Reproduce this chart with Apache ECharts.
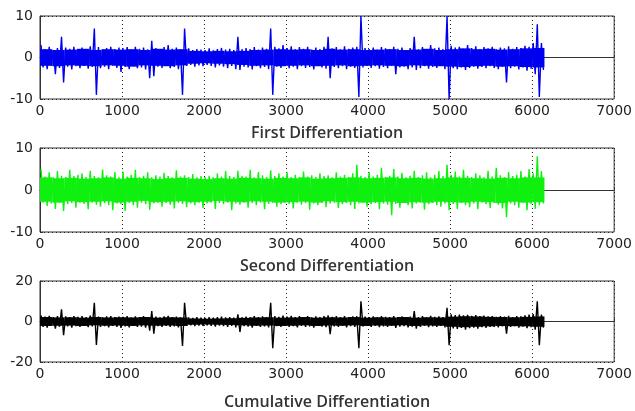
<!DOCTYPE html>
<html>
<head>
<meta charset="utf-8">
<script src="https://cdn.jsdelivr.net/npm/echarts@6/dist/echarts.min.js"></script>
<style>html,body{margin:0;padding:0;background:#fff}#c{width:635px;height:411px}</style>
</head>
<body>
<div id="c"></div>
<script>
// x tick labels and y tick labels
var xTicks = [0, 1000, 2000, 3000, 4000, 5000, 6000, 7000];
var yTicksA = [-10, 0, 10];
var yTicksC = [-20, 0, 20];
var titles = ['First Differentiation', 'Second Differentiation', 'Cumulative Differentiation'];

// extremes: each bin covers 50 samples; upper and lower extremes
var binSize = 50;
// dense core of the signal: each core bin covers 150 samples
var coreSize = 150;

var firstHigh = [
 3.0, 2.0, 2.6, 1.8, 2.3, 5.0, 2.4, 2.1, 2.6, 1.9,
 2.4, 2.0, 2.7, 7.0, 2.5, 1.9, 2.3, 2.6, 2.0, 2.4,
 2.2, 2.5, 1.9, 2.6, 2.1, 2.4, 2.0, 4.0, 2.3, 1.8,
 2.5, 3.0, 2.1, 2.4, 2.0, 7.0, 2.2, 1.8, 2.0, 1.9,
 1.8, 2.2, 1.7, 2.0, 2.3, 1.9, 2.1, 1.8, 5.0, 2.0,
 2.3, 2.0, 2.5, 1.9, 2.4, 2.1, 7.0, 2.6, 2.2, 3.0,
 2.3, 2.7, 2.0, 2.5, 2.1, 2.6, 1.9, 2.4, 2.0, 2.6,
 5.0, 2.2, 2.5, 2.0, 2.7, 2.1, 2.4, 2.6, 10.0, 2.3,
 2.0, 2.4, 1.9, 2.5, 2.2, 2.0, 2.6, 2.1, 2.4, 1.8,
 2.3, 5.0, 2.0, 2.5, 1.9, 3.0, 2.2, 2.4, 2.0, 10.0,
 2.8, 2.4, 2.6, 2.1, 3.0, 2.3, 2.7, 2.0, 2.5, 2.2,
 2.6, 2.0, 2.4, 2.2, 2.7, 2.1, 2.5, 2.3, 2.8, 2.6,
 3.5, 8.0, 3.5
];
var firstLow = [
 -2.4, -2.8, -2.0, -4.0, -2.5, -6.0, -2.2, -2.9, -2.1, -2.6,
 -2.0, -2.7, -2.3, -9.0, -2.6, -2.2, -2.8, -2.0, -2.5, -3.5,
 -2.3, -2.8, -2.1, -2.6, -2.4, -2.9, -5.0, -4.5, -2.2, -2.5,
 -2.0, -2.6, -2.3, -2.8, -9.0, -2.0, -1.8, -2.2, -1.9, -2.1,
 -1.8, -2.0, -2.4, -1.9, -2.2, -2.6, -2.0, -2.8, -3.0, -2.2,
 -2.4, -2.9, -2.1, -2.6, -2.3, -2.8, -9.0, -2.2, -2.5, -2.0,
 -2.6, -2.2, -2.8, -2.1, -2.5, -2.3, -2.9, -2.0, -2.4, -2.7,
 -5.0, -2.3, -2.6, -2.1, -2.8, -2.2, -2.5, -9.5, -2.4, -2.0,
 -2.5, -2.1, -2.7, -2.3, -2.6, -2.0, -4.0, -2.4, -2.2, -2.8,
 -2.4, -3.0, -2.6, -2.1, -2.7, -2.3, -2.5, -2.0, -2.8, -10.0,
 -2.6, -2.8, -2.4, -3.0, -2.5, -2.2, -2.7, -2.3, -2.6, -2.1,
 -2.5, -2.8, -2.3, -6.0, -2.6, -2.2, -2.9, -2.4, -3.2, -2.7,
 -4.0, -9.5, -3.0
];
var firstCoreHigh = [
 2.0, 1.8, 1.9, 2.1, 1.8, 2.0, 1.9, 2.0, 1.8, 2.1,
 1.9, 2.0, 1.6, 1.5, 1.6, 1.5, 1.6, 1.8, 1.9, 2.0,
 1.9, 2.0, 1.8, 2.1, 1.9, 2.0, 1.8, 1.9, 2.0, 1.8,
 1.9, 2.1, 1.8, 2.0, 2.2, 2.0, 2.1, 1.9, 2.0, 2.2,
 2.3
];
var firstCoreLow = [
 -2.0, -2.1, -1.9, -2.0, -2.1, -1.9, -2.0, -2.2, -1.9, -2.0,
 -2.1, -1.9, -1.5, -1.4, -1.5, -1.6, -1.8, -2.0, -1.9, -2.1,
 -2.0, -1.9, -2.1, -2.0, -1.9, -2.1, -2.0, -1.9, -2.0, -2.1,
 -1.9, -2.0, -2.1, -2.2, -2.3, -2.1, -2.0, -2.2, -2.1, -2.3,
 -2.4
];
var secondHigh = [
 5.0, 3.2, 4.2, 3.0, 4.5, 3.4, 3.1, 4.8, 3.3, 3.6,
 4.0, 3.1, 4.6, 3.3, 3.0, 4.9, 3.5, 3.2, 4.3, 3.0,
 4.4, 3.2, 3.6, 4.8, 3.1, 3.4, 4.2, 3.0, 3.5, 3.2,
 4.1, 3.3, 3.0, 4.7, 3.2, 3.5, 3.1, 3.8, 3.0, 3.3,
 3.1, 3.4, 3.0, 4.0, 3.2, 4.5, 3.3, 3.1, 4.6, 3.4,
 3.2, 4.8, 3.0, 4.3, 3.5, 3.1, 4.7, 3.3, 4.0, 3.2,
 4.2, 3.1, 3.6, 3.0, 4.4, 3.2, 3.5, 3.1, 4.0, 3.3,
 3.5, 3.0, 4.2, 3.2, 3.6, 3.1, 4.0, 6.0, 3.4, 3.1,
 4.3, 3.2, 3.6, 5.3, 3.1, 3.4, 5.0, 3.2, 4.1, 3.0,
 3.4, 4.6, 3.1, 3.5, 4.2, 3.0, 3.6, 4.5, 3.3, 6.0,
 3.6, 4.4, 3.2, 4.8, 3.4, 3.1, 4.0, 3.5, 3.0, 4.6,
 3.2, 5.2, 3.5, 3.1, 4.3, 3.3, 3.6, 4.5, 3.2, 5.0,
 4.0, 8.0, 4.5
];
var secondLow = [
 -3.0, -3.8, -3.2, -4.5, -3.0, -5.0, -3.4, -3.1, -4.2, -3.0,
 -3.3, -4.6, -3.0, -3.5, -4.0, -3.1, -3.6, -4.8, -3.2, -3.4,
 -5.0, -3.1, -3.6, -4.2, -3.0, -3.4, -4.7, -3.2, -3.0, -4.0,
 -3.1, -3.5, -4.4, -3.0, -3.3, -4.1, -3.2, -3.6, -3.0, -4.3,
 -3.2, -3.0, -4.5, -3.1, -3.4, -3.0, -4.8, -3.2, -3.5, -3.0,
 -4.2, -3.1, -3.6, -3.0, -4.6, -3.3, -3.1, -4.0, -3.4, -3.0,
 -3.3, -4.4, -3.0, -3.5, -3.1, -4.7, -3.2, -3.6, -3.0, -4.1,
 -3.2, -3.0, -4.3, -3.4, -3.1, -3.6, -4.5, -3.2, -3.0, -4.0,
 -3.4, -3.1, -4.6, -3.2, -3.5, -6.0, -3.3, -4.2, -3.0, -3.6,
 -4.4, -3.2, -3.0, -4.7, -3.4, -3.1, -3.6, -4.0, -3.2, -4.8,
 -3.3, -4.5, -3.1, -3.6, -4.1, -3.2, -4.6, -3.0, -3.4, -4.3,
 -3.1, -3.5, -4.4, -6.5, -3.2, -3.6, -4.2, -3.0, -4.8, -3.3,
 -4.5, -3.6, -3.2
];
var secondCoreHigh = [
 3.0, 2.8, 2.9, 2.7, 2.8, 3.0, 2.7, 2.9, 2.8, 2.6,
 2.8, 2.9, 2.7, 2.6, 2.8, 2.7, 2.9, 2.8, 2.7, 2.9,
 2.8, 3.0, 2.7, 2.8, 2.9, 3.0, 2.8, 2.9, 3.0, 2.8,
 2.9, 2.7, 2.8, 3.0, 2.9, 2.8, 2.7, 2.9, 2.8, 3.0,
 3.0
];
var secondCoreLow = [
 -2.8, -3.0, -2.7, -2.9, -2.8, -2.7, -3.0, -2.8, -2.6, -2.9,
 -2.8, -2.7, -2.9, -2.8, -2.6, -2.8, -2.9, -2.7, -2.8, -3.0,
 -2.9, -2.8, -3.0, -2.7, -2.9, -2.8, -3.0, -2.9, -2.8, -3.1,
 -2.9, -3.0, -2.8, -2.9, -3.0, -2.8, -2.9, -3.1, -2.8, -3.0,
 -2.9
];
var thirdHigh = [
 3.0, 2.4, 2.8, 2.2, 2.6, 6.0, 2.5, 2.2, 2.7, 2.3,
 2.6, 2.2, 2.9, 9.2, 2.4, 2.0, 2.5, 2.7, 2.1, 2.4,
 2.3, 2.6, 2.0, 2.5, 2.2, 2.7, 2.1, 5.2, 2.4, 2.0,
 2.5, 2.8, 2.2, 2.4, 2.1, 9.2, 2.0, 1.8, 2.1, 1.9,
 1.8, 2.2, 1.9, 2.1, 2.4, 2.0, 2.2, 1.9, 3.5, 2.1,
 2.4, 2.0, 2.6, 2.1, 2.5, 2.2, 9.2, 2.7, 2.3, 2.9,
 2.4, 2.8, 2.1, 2.6, 2.2, 2.7, 2.0, 2.5, 2.1, 2.6,
 3.0, 2.3, 2.6, 2.1, 2.7, 2.2, 2.5, 2.6, 10.0, 2.4,
 2.1, 2.5, 2.0, 2.6, 2.3, 2.1, 2.7, 2.2, 2.5, 2.0,
 2.4, 5.2, 2.1, 2.6, 2.0, 2.8, 2.3, 2.5, 2.1, 6.8,
 3.5, 3.2, 3.4, 3.0, 3.3, 2.8, 3.1, 2.6, 2.9, 2.5,
 2.7, 2.3, 2.6, 2.4, 2.8, 2.2, 2.6, 2.5, 3.0, 3.4,
 3.6, 10.0, 3.4
];
var thirdLow = [
 -2.6, -3.0, -2.2, -3.5, -2.6, -6.8, -2.4, -3.0, -2.3, -2.7,
 -2.2, -2.8, -2.4, -11.6, -2.7, -2.3, -2.9, -2.1, -2.6, -3.2,
 -2.4, -2.9, -2.2, -2.7, -2.5, -3.0, -4.5, -6.0, -2.3, -2.6,
 -2.1, -2.7, -2.4, -2.9, -12.1, -2.1, -1.9, -2.3, -2.0, -2.2,
 -1.9, -2.1, -2.5, -2.0, -2.3, -2.7, -2.1, -2.9, -5.2, -2.3,
 -2.5, -3.0, -2.2, -2.7, -2.4, -2.9, -13.2, -2.3, -2.6, -2.1,
 -2.7, -2.3, -2.9, -2.2, -2.6, -2.4, -3.0, -2.1, -2.5, -2.8,
 -6.3, -2.4, -2.7, -2.2, -2.9, -2.3, -2.6, -13.2, -2.5, -2.1,
 -2.6, -2.2, -2.8, -2.4, -2.7, -2.1, -3.2, -2.5, -2.3, -2.9,
 -2.5, -3.5, -2.7, -2.2, -2.8, -2.4, -2.6, -2.1, -2.9, -11.7,
 -3.4, -3.6, -3.2, -4.0, -3.3, -3.0, -3.5, -2.8, -3.1, -2.7,
 -2.6, -2.9, -2.4, -6.0, -2.7, -2.3, -3.0, -2.5, -3.3, -2.8,
 -4.0, -11.7, -3.0
];
var thirdCoreHigh = [
 2.2, 2.0, 2.1, 1.9, 2.2, 2.0, 2.1, 2.0, 2.2, 1.9,
 2.1, 2.0, 1.5, 1.4, 1.5, 1.6, 1.8, 2.0, 2.1, 1.9,
 2.0, 2.2, 1.9, 2.1, 2.0, 2.2, 1.9, 2.1, 2.0, 2.2,
 1.9, 2.1, 2.0, 2.4, 2.6, 2.5, 2.3, 2.2, 2.1, 2.3,
 2.5
];
var thirdCoreLow = [
 -2.2, -2.1, -2.0, -2.2, -1.9, -2.1, -2.0, -2.2, -1.9, -2.1,
 -2.0, -2.2, -1.6, -1.5, -1.6, -1.7, -1.9, -2.1, -2.0, -2.2,
 -2.1, -1.9, -2.2, -2.0, -2.1, -1.9, -2.2, -2.0, -2.1, -1.9,
 -2.2, -2.0, -2.1, -2.6, -2.8, -2.6, -2.4, -2.2, -2.3, -2.4,
 -2.6
];

function buildLine(high, low) {
  var out = [];
  for (var i = 0; i < high.length; i++) {
    out.push([i * binSize + binSize * 0.25, high[i]]);
    out.push([i * binSize + binSize * 0.75, low[i]]);
  }
  return out;
}
function buildCore(high, low) {
  var out = [];
  for (var i = 0; i < high.length; i++) {
    out.push([i * coreSize, (i + 1) * coreSize, high[i], low[i]]);
  }
  return out;
}

var chart = echarts.init(document.getElementById('c'), null, {renderer: 'canvas'});
var tickFont = {fontFamily: 'DejaVu Sans', fontSize: 14, color: '#222', formatter: function (v) { return String(v); }};
var grids = [
  {left: 40, right: 17, top: 16, height: 83},
  {left: 40, right: 17, top: 148, height: 84},
  {left: 40, right: 17, top: 281, height: 83}
];
var nameGaps = [26, 26, 32];
var yRanges = [yTicksA, yTicksA, yTicksC];
var colors = ['#0000f0', '#10f010', '#000000'];
var lines = [buildLine(firstHigh, firstLow), buildLine(secondHigh, secondLow), buildLine(thirdHigh, thirdLow)];
var cores = [buildCore(firstCoreHigh, firstCoreLow), buildCore(secondCoreHigh, secondCoreLow), buildCore(thirdCoreHigh, thirdCoreLow)];

var series = [];
cores.forEach(function (d, k) {
  series.push({
    type: 'custom', xAxisIndex: k, yAxisIndex: k, data: d, z: 2,
    encode: {x: [0, 1], y: [2, 3]},
    renderItem: function (params, api) {
      var p0 = api.coord([api.value(0), api.value(2)]);
      var p1 = api.coord([api.value(1), api.value(3)]);
      return {type: 'rect', shape: {x: p0[0], y: p0[1], width: p1[0] - p0[0], height: p1[1] - p0[1]},
              style: {fill: colors[k]}};
    }
  });
  series.push({
    type: 'line', xAxisIndex: k, yAxisIndex: k, data: lines[k],
    showSymbol: false, symbol: 'none', sampling: null,
    lineStyle: {color: colors[k], width: 1.4},
    z: 3
  });
});

var option = {
  animation: false,
  backgroundColor: '#fff',
  grid: grids.map(function (g) {
    return Object.assign({show: true, borderColor: '#333', borderWidth: 1, backgroundColor: '#fff'}, g);
  }),
  xAxis: grids.map(function (g, k) {
    return {
      type: 'value', gridIndex: k,
      min: xTicks[0], max: xTicks[xTicks.length - 1], interval: xTicks[1] - xTicks[0],
      axisLine: {show: true, lineStyle: {color: '#333'}},
      axisTick: {show: true, inside: true, length: 3, lineStyle: {color: '#333'}},
      axisLabel: Object.assign({margin: 5}, tickFont),
      splitLine: {show: true, lineStyle: {color: '#222', type: [1, 3], width: 1}},
      name: titles[k], nameLocation: 'middle', nameGap: nameGaps[k],
      nameTextStyle: {fontFamily: 'Open Sans', fontWeight: 600, fontSize: 16, color: '#333'}
    };
  }),
  yAxis: grids.map(function (g, k) {
    var t = yRanges[k];
    return {
      type: 'value', gridIndex: k,
      min: t[0], max: t[t.length - 1], interval: t[1] - t[0],
      axisLine: {show: true, lineStyle: {color: '#333'}},
      axisTick: {show: true, inside: true, length: 3, lineStyle: {color: '#333'}},
      axisLabel: Object.assign({margin: 7}, tickFont),
      splitLine: {show: true, lineStyle: {color: '#222', type: [1, 3], width: 1}}
    };
  }),
  series: series
};
chart.setOption(option);
</script>
</body>
</html>
